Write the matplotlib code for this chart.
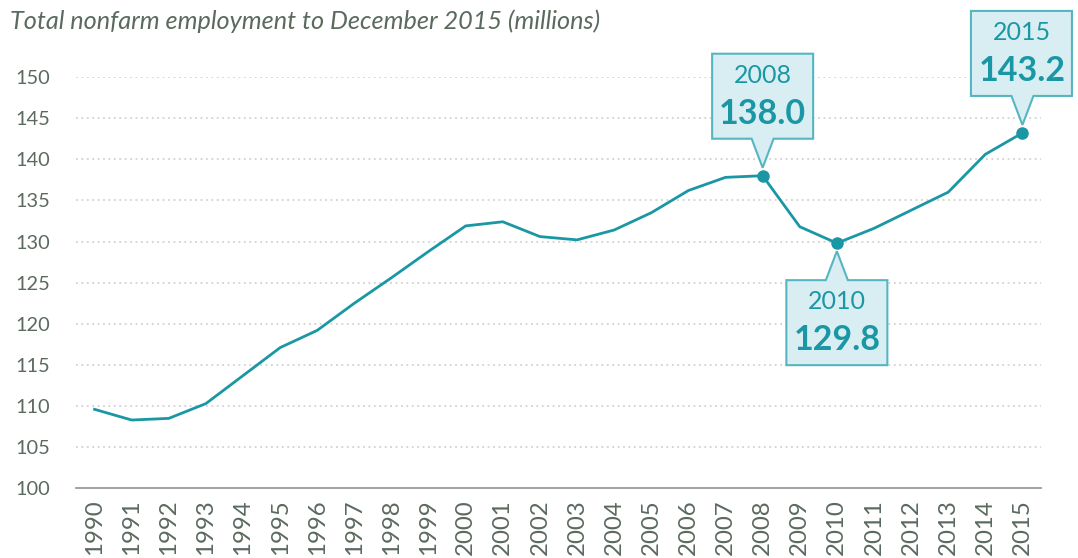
import matplotlib
matplotlib.use("Agg")
import matplotlib.pyplot as plt
import matplotlib.transforms as mtransforms
from matplotlib.patches import Polygon

# Total nonfarm employment, December of each year (millions)
years = [str(y) for y in range(1990, 2016)]
employment = [109.6, 108.3, 108.5, 110.3, 113.7, 117.1, 119.2, 122.5, 125.6,
              128.8, 131.9, 132.4, 130.6, 130.2, 131.4, 133.5, 136.2, 137.8,
              138.0, 131.8, 129.8, 131.6, 133.8, 136.0, 140.6, 143.2]
highlight_years = ["2008", "2010", "2015"]
highlight_side = ["above", "below", "above"]
y_ticks = [100, 105, 110, 115, 120, 125, 130, 135, 140, 145, 150]

TEAL = "#1a97a4"
BOX_FILL = "#d9eef2"
BOX_EDGE = "#55b6c2"
TEXT_GRAY = "#5b6a5e"

plt.rcParams["font.family"] = ["Lato", "DejaVu Sans"]

fig = plt.figure(figsize=(10.78, 5.58), dpi=100)
ax = fig.add_axes([76 / 1078, 69.7 / 558, (1041 - 76) / 1078, (488.3 - 77) / 558])

x = list(range(len(years)))
ax.plot(x, employment, color=TEAL, lw=2.0, solid_joinstyle="round", zorder=3)

ax.set_xlim(-0.5, len(years) - 0.5)
ax.set_ylim(100, 150)
ax.set_yticks(y_ticks)
ax.set_xticks(x)
ax.set_xticklabels(years, rotation=90)
ax.tick_params(axis="both", length=0, colors=TEXT_GRAY)
ax.tick_params(axis="y", labelsize=14.4, pad=19)
ax.tick_params(axis="x", labelsize=17.3, pad=8)
for lab in ax.get_xticklabels() + ax.get_yticklabels():
    lab.set_color(TEXT_GRAY)

for v in y_ticks[1:]:
    ax.axhline(v, color="#d2d2d2", lw=1.3, ls=(0, (1, 2)), zorder=1)
for side in ("top", "right", "left"):
    ax.spines[side].set_visible(False)
ax.spines["bottom"].set_color("#9a9a9a")
ax.spines["bottom"].set_linewidth(1.3)

fig.text(10 / 1078, 1 - 21 / 558, "Total nonfarm employment to December 2015 (millions)",
         fontsize=18.2, style="italic", color=TEXT_GRAY, ha="left", va="center")


def callout(xi, yv, side, dx=0):
    """Draw a marker at (xi, yv) and a labelled box with a pointer."""
    ax.plot([xi], [yv], "o", color=TEAL, ms=8, zorder=4, clip_on=False)
    sgn = 1 if side == "above" else -1
    w, h, gap, tip, hw = 101, 85, 37, 8, 11
    near = sgn * gap
    far = sgn * (gap + h)
    verts = [(-w / 2 + dx, near), (-hw, near), (0, sgn * tip), (hw, near),
             (w / 2 + dx, near), (w / 2 + dx, far), (-w / 2 + dx, far)]
    trans = (mtransforms.Affine2D().scale(1 / fig.dpi) + fig.dpi_scale_trans
             + mtransforms.ScaledTranslation(xi, yv, ax.transData))
    poly = Polygon(verts, closed=True, transform=trans, facecolor=BOX_FILL,
                   edgecolor=BOX_EDGE, lw=1.5, zorder=5, clip_on=False,
                   joinstyle="miter")
    ax.add_patch(poly)
    if side == "above":
        year_off, val_off = gap + 63, gap + 25
    else:
        year_off, val_off = -(gap + 21), -(gap + 60)
    ax.annotate(years[xi], (xi, yv), xytext=(dx / 2, year_off),
                textcoords="offset pixels", ha="center", va="center",
                fontsize=18, color=TEAL, zorder=6, annotation_clip=False)
    ax.annotate(f"{yv:.1f}", (xi, yv), xytext=(dx / 2, val_off),
                textcoords="offset pixels", ha="center", va="center",
                fontsize=24.5, fontweight="bold", color=TEAL, zorder=6,
                annotation_clip=False)


for yr, side in zip(highlight_years, highlight_side):
    i = years.index(yr)
    shift = -1 if yr == "2015" else 0
    callout(i, employment[i], side, dx=shift)

fig.savefig("out.png", dpi=100)
